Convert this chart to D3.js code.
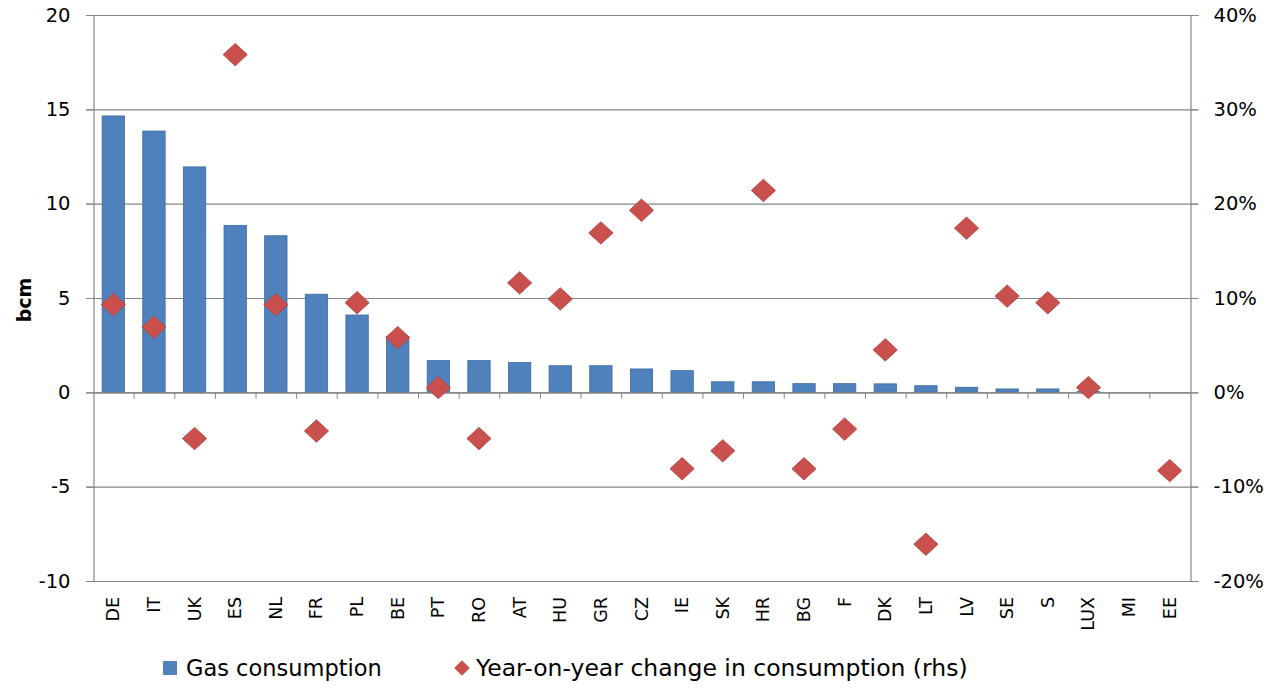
<!DOCTYPE html>
<html>
<head>
<meta charset="utf-8">
<script src="https://cdn.jsdelivr.net/npm/d3@7"></script>
<style>
  body { margin: 0; background: #fff; }
  svg text { font-family: "DejaVu Sans", Verdana, sans-serif; fill: #000; }
</style>
</head>
<body>
<div id="chart"></div>
<script>
// country codes as printed under the bars
const countries = ["DE", "IT", "UK", "ES", "NL", "FR", "PL", "BE", "PT", "RO", "AT", "HU", "GR", "CZ",
  "IE", "SK", "HR", "BG", "F", "DK", "LT", "LV", "SE", "S", "LUX", "MI", "EE"];

// gas consumption, bcm (left axis)
const consumption = [14.65, 13.85, 11.95, 8.85, 8.3, 5.2, 4.1, 2.95, 1.68, 1.68, 1.58, 1.41, 1.41, 1.24,
  1.15, 0.56, 0.56, 0.46, 0.46, 0.45, 0.35, 0.27, 0.18, 0.18, 0.05, 0, 0];

// year-on-year change, % (right axis), MI has no value
const yoyChange = [9.3, 6.9, -4.9, 35.8, 9.3, -4.1, 9.5, 5.8, 0.5, -4.9, 11.6, 9.9, 16.9, 19.3,
  -8.1, -6.2, 21.4, -8.1, -3.9, 4.5, -16.1, 17.4, 10.2, 9.5, 0.5, null, -8.3];

const leftTicks = [-10, -5, 0, 5, 10, 15, 20];
const rightTicks = [-20, -10, 0, 10, 20, 30, 40];

const width = 1282, height = 700;
const margin = {top: 15, right: 92, bottom: 119, left: 93};

const svg = d3.select("#chart").append("svg")
  .attr("width", width)
  .attr("height", height);

const x = d3.scaleBand()
  .domain(countries)
  .range([margin.left, width - margin.right])
  .paddingInner(0.45)
  .paddingOuter(0.225);

// band without padding, used for the tick marks between categories
const xCat = d3.scaleBand()
  .domain(countries)
  .range([margin.left, width - margin.right]);

const y = d3.scaleLinear()
  .domain([-10, 20])
  .range([height - margin.bottom, margin.top]);

const y2 = d3.scaleLinear()
  .domain([-20, 40])
  .range([height - margin.bottom, margin.top]);

const gridColor = "#868686";

// horizontal grid lines
svg.append("g")
  .selectAll("line")
  .data(leftTicks)
  .join("line")
  .attr("x1", margin.left - 7)
  .attr("x2", width - margin.right + 8)
  .attr("y1", d => y(d) + 0.5)
  .attr("y2", d => y(d) + 0.5)
  .attr("stroke", gridColor)
  .attr("stroke-width", 1.2);

// left axis (plain hyphen for negatives, like the original)
const leftAxis = svg.append("g")
  .attr("transform", `translate(${margin.left + 0.5},0)`)
  .call(d3.axisLeft(y).tickValues(leftTicks).tickSize(7).tickPadding(16).tickFormat(d => String(d)));
leftAxis.select(".domain").attr("stroke", gridColor).attr("stroke-width", 1.2);
leftAxis.selectAll(".tick line").attr("stroke", gridColor);
leftAxis.selectAll("text").attr("font-size", 19.5);

// right axis
const rightAxis = svg.append("g")
  .attr("transform", `translate(${width - margin.right + 0.5},0)`)
  .call(d3.axisRight(y2).tickValues(rightTicks).tickSize(8).tickPadding(15).tickFormat(d => d + "%"));
rightAxis.select(".domain").attr("stroke", gridColor).attr("stroke-width", 1.2);
rightAxis.selectAll(".tick line").attr("stroke", gridColor);
rightAxis.selectAll("text").attr("font-size", 19.5);

// y axis title
svg.append("text")
  .attr("transform", `translate(31,${y(5) + 2}) rotate(-90)`)
  .attr("text-anchor", "middle")
  .attr("font-size", 19)
  .attr("font-weight", "bold")
  .text("bcm");

// bars
svg.append("g")
  .selectAll("rect")
  .data(countries)
  .join("rect")
  .attr("x", d => x(d))
  .attr("width", x.bandwidth())
  .attr("y", (d, i) => y(consumption[i]))
  .attr("height", (d, i) => y(0) - y(consumption[i]))
  .attr("fill", "#4f81bd")
  .attr("stroke", "#3d6aa0")
  .attr("stroke-width", 0.8);

// category axis along zero
const zeroAxis = svg.append("g")
  .attr("transform", `translate(0,${y(0) + 0.5})`);
zeroAxis.append("line")
  .attr("x1", margin.left)
  .attr("x2", width - margin.right)
  .attr("stroke", gridColor)
  .attr("stroke-width", 1.2);
zeroAxis.selectAll(".sep")
  .data(countries.slice(1))
  .join("line")
  .attr("class", "sep")
  .attr("x1", d => xCat(d) + 0.5)
  .attr("x2", d => xCat(d) + 0.5)
  .attr("y1", 0)
  .attr("y2", 6)
  .attr("stroke", gridColor);

// category labels, rotated, below the plot
svg.append("g")
  .selectAll("text")
  .data(countries)
  .join("text")
  .attr("transform", d => `translate(${x(d) + x.bandwidth() / 2 + 6},${height - margin.bottom + 16}) rotate(-90)`)
  .attr("text-anchor", "end")
  .attr("font-size", 17.5)
  .text(d => d);

// diamonds
const diamond = d3.symbol().type(d3.symbolSquare).size(250);
svg.append("g")
  .selectAll("path")
  .data(countries.map((c, i) => ({c, v: yoyChange[i]})).filter(d => d.v !== null))
  .join("path")
  .attr("d", diamond)
  .attr("transform", d => `translate(${x(d.c) + x.bandwidth() / 2},${y2(d.v)}) scale(1.08,1) rotate(45)`)
  .attr("fill", "#c9504d")
  .attr("stroke", "#b5413e")
  .attr("stroke-width", 0.8);

// legend
const legend = svg.append("g").attr("transform", "translate(0,668)");
legend.append("rect")
  .attr("x", 163).attr("y", -7)
  .attr("width", 14).attr("height", 14)
  .attr("fill", "#4f81bd");
legend.append("text")
  .attr("x", 186).attr("y", 8)
  .attr("font-size", 22.5)
  .text("Gas consumption");
legend.append("path")
  .attr("d", d3.symbol().type(d3.symbolSquare).size(120))
  .attr("transform", "translate(462,0) rotate(45)")
  .attr("fill", "#c9504d");
legend.append("text")
  .attr("x", 476).attr("y", 8)
  .attr("font-size", 23.5)
  .text("Year-on-year change in consumption (rhs)");
</script>
</body>
</html>
